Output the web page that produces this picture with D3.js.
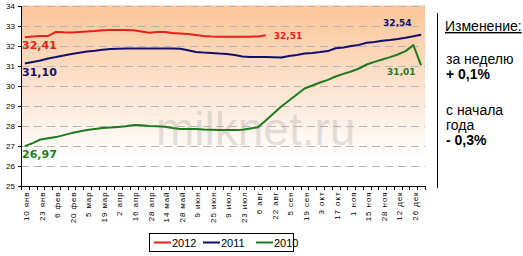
<!DOCTYPE html>
<html>
<head>
<meta charset="utf-8">
<script src="https://cdn.jsdelivr.net/npm/d3@7"></script>
<style>
  body { margin: 0; background: #fff; }
  svg { display: block; }
  .axis path, .axis line { stroke: #000; shape-rendering: crispEdges; }
  .axis text { font-family: "Liberation Sans", Arial, sans-serif; fill: #000; }
</style>
</head>
<body>
<svg width="523" height="256"></svg>
<script>
// tick labels (every second week is labelled)
var weekLabels = ["10 янв","23 янв","6 фев","20 фев","5 мар","19 мар","2 апр","16 апр","28 апр","14 май",
  "28 май","9 июн","25 июн","9 июл","23 июл","6 авг","22 авг","5 сен","19 сен","3 окт",
  "17 окт","1 ноя","15 ноя","28 ноя","12 дек","26 дек"];
var weekCount = 52;

var years = ["2012", "2011", "2010"];
var v2012 = [32.41,32.45,32.47,32.48,32.68,32.66,32.65,32.68,32.70,32.72,32.76,32.78,32.77,32.78,32.76,32.70,
  32.64,32.67,32.68,32.62,32.60,32.57,32.53,32.47,32.45,32.44,32.44,32.44,32.44,32.44,32.45,32.51];
var v2011 = [31.10,31.18,31.25,31.35,31.42,31.50,31.58,31.64,31.70,31.74,31.79,31.82,31.84,31.85,31.85,31.85,
  31.85,31.85,31.85,31.85,31.84,31.76,31.68,31.65,31.63,31.60,31.58,31.52,31.45,31.43,31.42,31.42,
  31.41,31.40,31.48,31.53,31.60,31.63,31.67,31.72,31.86,31.90,31.97,32.03,32.14,32.18,32.24,32.28,
  32.33,32.39,32.46,32.54];
var v2010 = [26.97,27.12,27.30,27.36,27.42,27.52,27.62,27.70,27.77,27.83,27.87,27.90,27.93,27.96,28.02,28.01,
  27.98,27.96,27.94,27.88,27.83,27.82,27.82,27.80,27.79,27.78,27.78,27.78,27.79,27.85,27.91,28.25,
  28.60,28.95,29.25,29.55,29.85,30.00,30.15,30.28,30.45,30.58,30.70,30.85,31.05,31.18,31.30,31.42,
  31.55,31.72,32.02,31.01];
var colors = ["#e8201a", "#12106e", "#1f7a1f"];

var svg = d3.select("svg");
var pL = 21, pR = 425, pT = 5.5, pB = 185.5;

var x = d3.scaleLinear().domain([0, weekCount]).range([pL, pR]);
var y = d3.scaleLinear().domain([25, 34]).range([pB, pT]);

// plot background
var grad = svg.append("defs").append("linearGradient")
    .attr("id", "bg").attr("x1", 0).attr("y1", 0).attr("x2", 0).attr("y2", 1);
grad.append("stop").attr("offset", "0%").attr("stop-color", "#fbc597");
grad.append("stop").attr("offset", "45%").attr("stop-color", "#fde3cf");
grad.append("stop").attr("offset", "85%").attr("stop-color", "#ffffff");

svg.append("rect")
    .attr("x", pL).attr("y", pT)
    .attr("width", pR - pL).attr("height", pB - pT)
    .attr("fill", "url(#bg)");

// watermark
svg.append("text")
    .attr("x", 156).attr("y", 145)
    .style("font-family", "Liberation Sans, Arial, sans-serif")
    .style("font-size", "46px")
    .attr("fill", "#9a9a9a").attr("fill-opacity", 0.3)
    .text("milknet.ru");

// grid
svg.append("g").selectAll("line")
    .data(d3.range(26, 35))
  .enter().append("line")
    .attr("x1", pL).attr("x2", pR)
    .attr("y1", function(d) { return Math.round(y(d)) + 0.5; })
    .attr("y2", function(d) { return Math.round(y(d)) + 0.5; })
    .attr("stroke", "#b4b4b4")
    .attr("stroke-dasharray", "8,5");

// axes
svg.append("g")
    .attr("class", "axis")
    .attr("transform", "translate(" + pL + ",0)")
    .call(d3.axisLeft(y).ticks(9).tickSize(3).tickPadding(3))
    .call(function(g) { g.selectAll("text").style("font-size", "8px"); });

svg.append("g")
    .attr("class", "axis")
    .attr("transform", "translate(0," + pB + ")")
    .call(d3.axisBottom(x).tickValues(d3.range(0, weekCount + 1)).tickSize(4).tickFormat("").tickSizeOuter(0));

svg.append("g")
    .attr("class", "axis")
    .attr("transform", "translate(0," + pB + ")")
    .call(d3.axisBottom(x)
      .tickValues(weekLabels.map(function(d, i) { return i * 2 + 0.5; }))
      .tickSize(0)
      .tickFormat(function(d) { return weekLabels[(d - 0.5) / 2]; }))
    .call(function(g) {
      g.select(".domain").remove();
      g.selectAll("text")
        .style("font-size", "8px")
        .style("letter-spacing", "0.9px")
        .attr("text-anchor", "end")
        .attr("transform", "rotate(-90)")
        .attr("x", -6)
        .attr("y", 1)
        .attr("dy", "0.35em");
    });

// lines
var series = [v2012, v2011, v2010];
var line = d3.line()
    .x(function(d, i) { return x(i + 0.5); })
    .y(function(d) { return y(d); });

svg.append("g").selectAll("path")
    .data(series)
  .enter().append("path")
    .attr("d", line)
    .attr("fill", "none")
    .attr("stroke", function(d, i) { return colors[i]; })
    .attr("stroke-width", 2)
    .attr("stroke-linejoin", "round");

// value labels
var numFmt = function(v) { return v.toFixed(2).replace(".", ","); };
var lbl = svg.append("g")
    .style("font-family", "DejaVu Sans, Verdana, sans-serif")
    .style("font-weight", "bold");
lbl.selectAll(".start")
    .data(series)
  .enter().append("text")
    .attr("class", "start")
    .attr("x", 22)
    .attr("y", function(d) { return y(d[0]) + 12; })
    .attr("fill", function(d, i) { return colors[i]; })
    .style("font-size", "11px")
    .text(function(d) { return numFmt(d[0]); });

var ends = [
  { s: 0, dx: 8, dy: 3.5 },
  { s: 1, dx: -38, dy: -9 },
  { s: 2, dx: -34, dy: 10 }
];
lbl.selectAll(".end")
    .data(ends)
  .enter().append("text")
    .attr("class", "end")
    .attr("x", function(d) { var v = series[d.s]; return x(v.length - 0.5) + d.dx; })
    .attr("y", function(d) { var v = series[d.s]; return y(v[v.length - 1]) + d.dy; })
    .attr("fill", function(d) { return colors[d.s]; })
    .style("font-size", "9px")
    .text(function(d) { var v = series[d.s]; return numFmt(v[v.length - 1]); });

// legend
var lg = svg.append("g");
lg.append("rect")
    .attr("x", 149.5).attr("y", 233.5).attr("width", 144).attr("height", 18)
    .attr("fill", "#fff").attr("stroke", "#000");
var legX = [154, 203, 256];
years.forEach(function(yr, i) {
  lg.append("line")
      .attr("x1", legX[i]).attr("x2", legX[i] + 17)
      .attr("y1", 242.5).attr("y2", 242.5)
      .attr("stroke", colors[i]).attr("stroke-width", 2);
  lg.append("text")
      .attr("x", legX[i] + 18).attr("y", 246.5)
      .style("font-family", "Liberation Sans, Arial, sans-serif")
      .style("font-size", "11px")
      .text(yr);
});

// side panel
svg.append("line")
    .attr("x1", 437.5).attr("x2", 437.5).attr("y1", 13).attr("y2", 188)
    .attr("stroke", "#000");
var side = svg.append("g")
    .style("font-family", "Liberation Sans, Arial, sans-serif")
    .style("font-size", "14px");
side.append("text").attr("x", 445).attr("y", 31)
    .style("text-decoration", "underline").text("Изменение:");
side.append("text").attr("x", 446).attr("y", 64).text("за неделю");
side.append("text").attr("x", 446).attr("y", 79).style("font-weight", "bold").text("+ 0,1%");
side.append("text").attr("x", 446).attr("y", 115).text("с начала");
side.append("text").attr("x", 446).attr("y", 130).text("года");
side.append("text").attr("x", 446).attr("y", 145).style("font-weight", "bold").text("- 0,3%");
</script>
</body>
</html>
